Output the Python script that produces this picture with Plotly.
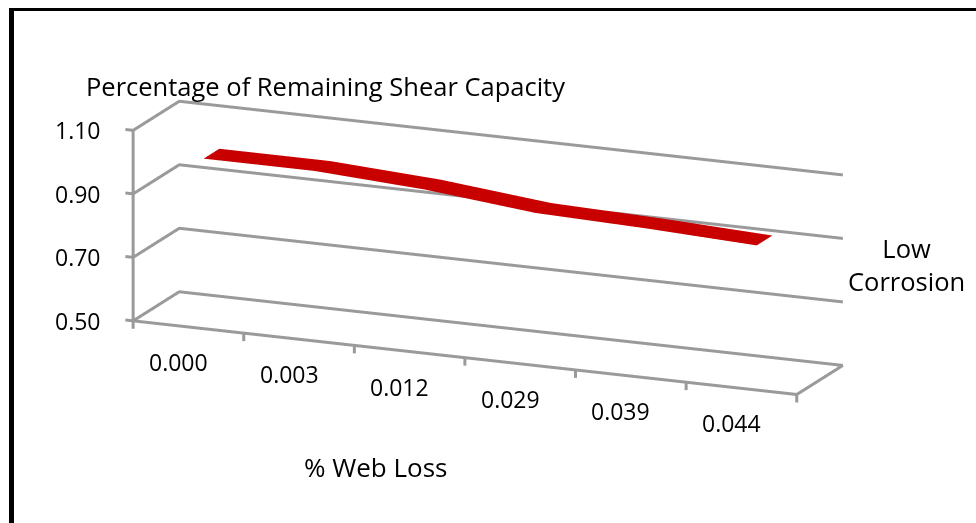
import math
import plotly.graph_objects as go

# ---- data ----
categories = ["0.000", "0.003", "0.012", "0.029", "0.039", "0.044"]
low_corrosion = [1.00, 1.00, 0.98, 0.945, 0.935, 0.92]
value_ticks = [0.50, 0.70, 0.90, 1.10]
series_name = "Low Corrosion"
y_title = "Percentage of Remaining Shear Capacity"
x_title = "% Web Loss"

W, H = 976, 523
FONT = "Open Sans"
GRID = "#9a9a9a"
RED = "#C80000"

n = len(categories)
idx = list(range(n))
# nominal walls of the 3-D box (category axis, series depth, value axis)
x0, x1 = -0.5, n - 0.5
y0, y1 = 0.0, 1.0
z0, z1 = value_ticks[0], value_ticks[-1]
# a small margin so tick marks outside the walls are not clipped
mx, my, mz = 0.1, 0.05, 0.03

ribbon_depth = [0.33, 0.67]
ribbon_z = [low_corrosion, low_corrosion]

fig = go.Figure()


def seg(xs, ys, zs):
    fig.add_trace(go.Scatter3d(x=xs, y=ys, z=zs, mode="lines", line=dict(color=GRID, width=6),
                               hoverinfo="skip", showlegend=False))


# value gridlines on the side wall and back wall
for v in value_ticks:
    seg([x0, x0, x1], [y0, y1, y1], [v, v, v])
# floor outline (front edge + right edge) and vertical value axis
seg([x0, x1, x1], [y0, y0, y1], [z0, z0, z0])
seg([x0, x0], [y0, y0], [z0, z1])
# value-axis tick marks
for v in value_ticks:
    seg([x0 - 0.07, x0], [y0, y0], [v, v])
# category-axis tick marks (category boundaries)
for i in range(n + 1):
    b = x0 + i
    seg([b, b], [y0, y0], [z0, z0 - 0.025])

fig.add_trace(go.Surface(
    x=idx, y=ribbon_depth, z=ribbon_z,
    colorscale=[[0, RED], [1, RED]], showscale=False,
    lighting=dict(ambient=1, diffuse=0, specular=0, fresnel=0, roughness=1),
    hoverinfo="skip", name=series_name,
))

# camera (orthographic)
phi = math.radians(22.76)
theta = math.radians(15.34)
d = 4.0
center = dict(x=0, y=0, z=-0.054)
direction = (math.sin(phi) * math.cos(theta), -math.cos(phi) * math.cos(theta), math.sin(theta))
eye = dict(x=center["x"] + d * direction[0], y=center["y"] + d * direction[1], z=center["z"] + d * direction[2])

hidden = dict(showbackground=False, showspikes=False, title=dict(text=""), showgrid=False, showline=False,
              showticklabels=False, ticks="", zeroline=False)

sx, sy, sz = 2.752 / (x1 - x0), 0.4559 / (y1 - y0), 0.7554 / (z1 - z0)

scene_ann = []
for i, c in enumerate(categories):
    scene_ann.append(dict(x=i, y=y0, z=z0, text=c, showarrow=False, xanchor="center", yanchor="middle",
                          xshift=-10, yshift=-35, font=dict(family=FONT, size=23, color="black")))
for v in value_ticks:
    scene_ann.append(dict(x=x0, y=y0, z=v, text=f"{v:.2f}", showarrow=False, xanchor="right", yanchor="middle",
                          xshift=-30, font=dict(family=FONT, size=23, color="black")))

fig.update_layout(
    width=W, height=H, margin=dict(l=0, r=0, t=0, b=0),
    paper_bgcolor="white", showlegend=False,
    scene=dict(
        domain=dict(x=[0, 1], y=[0, 1]),
        xaxis=dict(hidden, range=[x0 - mx, x1 + mx]),
        yaxis=dict(hidden, range=[y0 - my, y1 + my]),
        zaxis=dict(hidden, range=[z0 - mz, z1 + mz]),
        aspectmode="manual",
        aspectratio=dict(x=sx * (x1 - x0 + 2 * mx), y=sy * (y1 - y0 + 2 * my), z=sz * (z1 - z0 + 2 * mz)),
        camera=dict(projection=dict(type="orthographic"), eye=eye, center=center, up=dict(x=0, y=0, z=1)),
        dragmode=False,
        annotations=scene_ann,
    ),
    annotations=[
        dict(text=y_title, x=84 / W, y=1 - 86 / H, xref="paper", yref="paper", xanchor="left", yanchor="middle",
             showarrow=False, font=dict(family=FONT, size=25.5, color="black")),
        dict(text=x_title, x=376 / W, y=1 - 467 / H, xref="paper", yref="paper", xanchor="center", yanchor="middle",
             showarrow=False, font=dict(family=FONT, size=26, color="black")),
        dict(text="Low<br>Corrosion", x=906 / W, y=1 - 264 / H, xref="paper", yref="paper", xanchor="center",
             yanchor="middle", align="center", showarrow=False, font=dict(family=FONT, size=25.5, color="black")),
    ],
    shapes=[
        dict(type="line", xref="paper", yref="paper", x0=11.5 / W, x1=11.5 / W, y0=0, y1=1 - 8 / H,
             line=dict(color="black", width=5)),
        dict(type="line", xref="paper", yref="paper", x0=9 / W, x1=1, y0=1 - 9.5 / H, y1=1 - 9.5 / H,
             line=dict(color="black", width=3)),
    ],
)

fig.write_html("out.html")
